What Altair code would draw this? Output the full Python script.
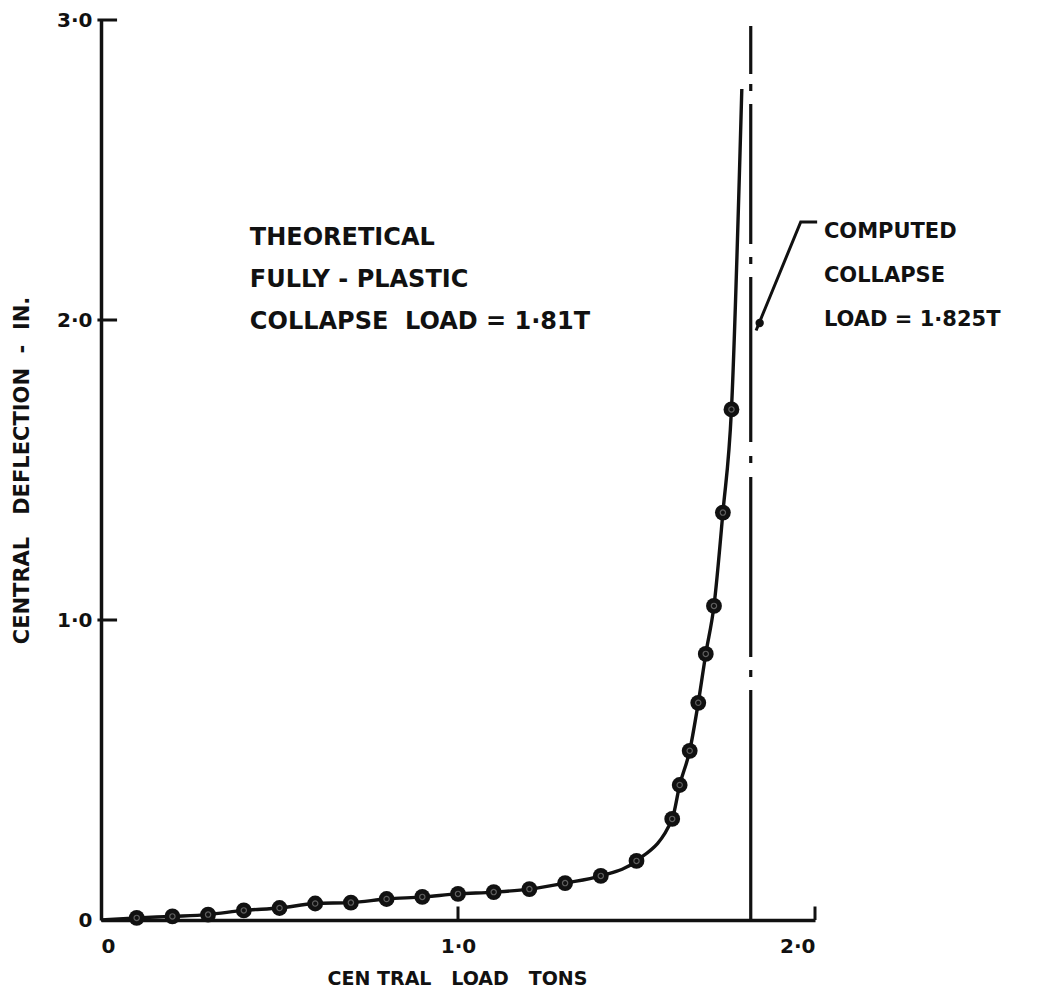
import altair as alt
import pandas as pd

# ---- data ----
load = [0.1, 0.2, 0.3, 0.4, 0.5, 0.6, 0.7, 0.8, 0.9, 1.0, 1.1, 1.2, 1.3, 1.4,
        1.5, 1.6, 1.621, 1.649, 1.673, 1.694, 1.717, 1.742, 1.766]
deflection = [0.007, 0.012, 0.018, 0.032, 0.04, 0.055, 0.058, 0.07, 0.077, 0.087,
              0.093, 0.103, 0.123, 0.147, 0.197, 0.337, 0.45, 0.564, 0.724, 0.887,
              1.047, 1.358, 1.702]
curve_load = [0.0] + load + [1.795]
curve_defl = [0.0] + deflection + [2.77]

collapse_load = 1.82
collapse_top = 2.98

leader_x = [2.006, 1.96, 1.835]
leader_y = [2.327, 2.327, 1.965]
blob_x = [1.845]
blob_y = [1.99]

NB = "\u00a0"
left_text = ["THEORETICAL", f"FULLY{NB}-{NB}PLASTIC", f"COLLAPSE{NB}{NB}LOAD{NB}={NB}1·81T"]
left_text_y = [2.273, 2.133, 1.993]
left_text_x = 0.417
right_text = ["COMPUTED", "COLLAPSE", "LOAD = 1·825T"]
right_text_y = [2.293, 2.147, 2.0]
right_text_x = 2.025

x_ticks = [1.0, 2.0]
y_ticks = [1.0, 2.0, 3.0]

x_title = f"CEN{NB}TRAL{NB}{NB}{NB}LOAD{NB}{NB}{NB}TONS"
y_title = f"CENTRAL{NB}{NB}{NB}DEFLECTION{NB}{NB}-{NB}{NB}IN."

INK = "#111111"
FONT = "DejaVu Sans"

xs = alt.Scale(domain=[0, 2], nice=False, zero=False)
ys = alt.Scale(domain=[0, 3], nice=False, zero=False)

label_expr = "datum.value == 0 ? '0' : replace(format(datum.value, '.1f'), '.', '·')"

x_axis = alt.Axis(values=[0, 1, 2], labelExpr=label_expr, ticks=False, grid=False,
                  domainWidth=3.5, domainColor=INK, labelFont=FONT, labelFontWeight="bold",
                  labelFontSize=20, labelColor=INK, labelPadding=26, labelBaseline="middle",
                  title=x_title, titleFont=FONT, titleFontWeight="bold",
                  titleFontSize=19, titleColor=INK, titleX=356, titleY=58,
                  titleBaseline="middle", titleAlign="center")
y_axis = alt.Axis(values=[0, 1, 2, 3], labelExpr=label_expr, ticks=False, grid=False,
                  domainWidth=3.5, domainColor=INK, labelFont=FONT, labelFontWeight="bold",
                  labelFontSize=20, labelColor=INK, labelPadding=9,
                  title=y_title, titleFont=FONT, titleFontWeight="bold",
                  titleFontSize=21, titleColor=INK, titleX=-79, titleY=450,
                  titleAngle=270, titleBaseline="middle", titleAlign="center")


def X(field):
    return alt.X(field, scale=xs, axis=x_axis)


def Y(field):
    return alt.Y(field, scale=ys, axis=y_axis)


curve_df = pd.DataFrame({"load": curve_load, "defl": curve_defl})
pts_df = pd.DataFrame({"load": load, "defl": deflection})

curve = alt.Chart(curve_df).mark_line(color=INK, strokeWidth=3.4, interpolate="monotone").encode(
    x=X("load:Q"), y=Y("defl:Q"))

pts = alt.Chart(pts_df).mark_point(filled=True, shape="circle", size=250, color=INK, opacity=1).encode(
    x=X("load:Q"), y=Y("defl:Q"))
pts_inner = alt.Chart(pts_df).mark_point(filled=False, shape="circle", size=28, color="#808080",
                                         strokeWidth=1.2).encode(
    x=X("load:Q"), y=Y("defl:Q"))

dash = alt.Chart(pd.DataFrame({"x": [collapse_load], "y0": [0.0], "y1": [collapse_top]})).mark_rule(
    color=INK, strokeWidth=3.2,
    strokeDash=[230, 13, 7, 13, 180, 14, 7, 14, 165, 13, 7, 13, 140, 13, 7, 10, 60]).encode(
    x=X("x:Q"), y=Y("y0:Q"), y2="y1:Q")

leader = alt.Chart(pd.DataFrame({"x": leader_x, "y": leader_y, "o": [0, 1, 2]})).mark_line(
    color=INK, strokeWidth=3).encode(
    x=X("x:Q"), y=Y("y:Q"), order="o:Q")
blob = alt.Chart(pd.DataFrame({"x": blob_x, "y": blob_y})).mark_point(
    filled=True, shape="circle", size=70, color=INK, opacity=1).encode(
    x=X("x:Q"), y=Y("y:Q"))

xt_df = pd.DataFrame({"x": x_ticks, "y0": [0.0] * len(x_ticks), "y1": [0.045] * len(x_ticks)})
xticks = alt.Chart(xt_df).mark_rule(color=INK, strokeWidth=3).encode(
    x=X("x:Q"), y=Y("y0:Q"), y2="y1:Q")
yt_df = pd.DataFrame({"y": y_ticks, "x0": [-0.01] * len(y_ticks), "x1": [0.045] * len(y_ticks)})
yticks = alt.Chart(yt_df).mark_rule(color=INK, strokeWidth=3).encode(
    y=Y("y:Q"), x=X("x0:Q"), x2="x1:Q")

lt_df = pd.DataFrame({"x": [left_text_x] * 3, "y": left_text_y, "t": left_text})
rt_df = pd.DataFrame({"x": [right_text_x] * 3, "y": right_text_y, "t": right_text})
ltext = alt.Chart(lt_df).mark_text(font=FONT, fontWeight="bold", fontSize=24, color=INK,
                                   align="left", baseline="middle").encode(
    x=X("x:Q"), y=Y("y:Q"), text="t:N")
rtext = alt.Chart(rt_df).mark_text(font=FONT, fontWeight="bold", fontSize=21, color=INK,
                                   align="left", baseline="middle").encode(
    x=X("x:Q"), y=Y("y:Q"), text="t:N")

chart = alt.layer(curve, dash, leader, blob, xticks, yticks, pts, pts_inner, ltext, rtext).properties(
    width=714, height=900,
    autosize=alt.AutoSizeParams(type="none"),
    padding={"left": 93, "top": 12, "right": 228, "bottom": 69},
    background="white",
).configure_view(stroke=None)

chart.save("out.html", embed_options={"renderer": "svg", "actions": False})
